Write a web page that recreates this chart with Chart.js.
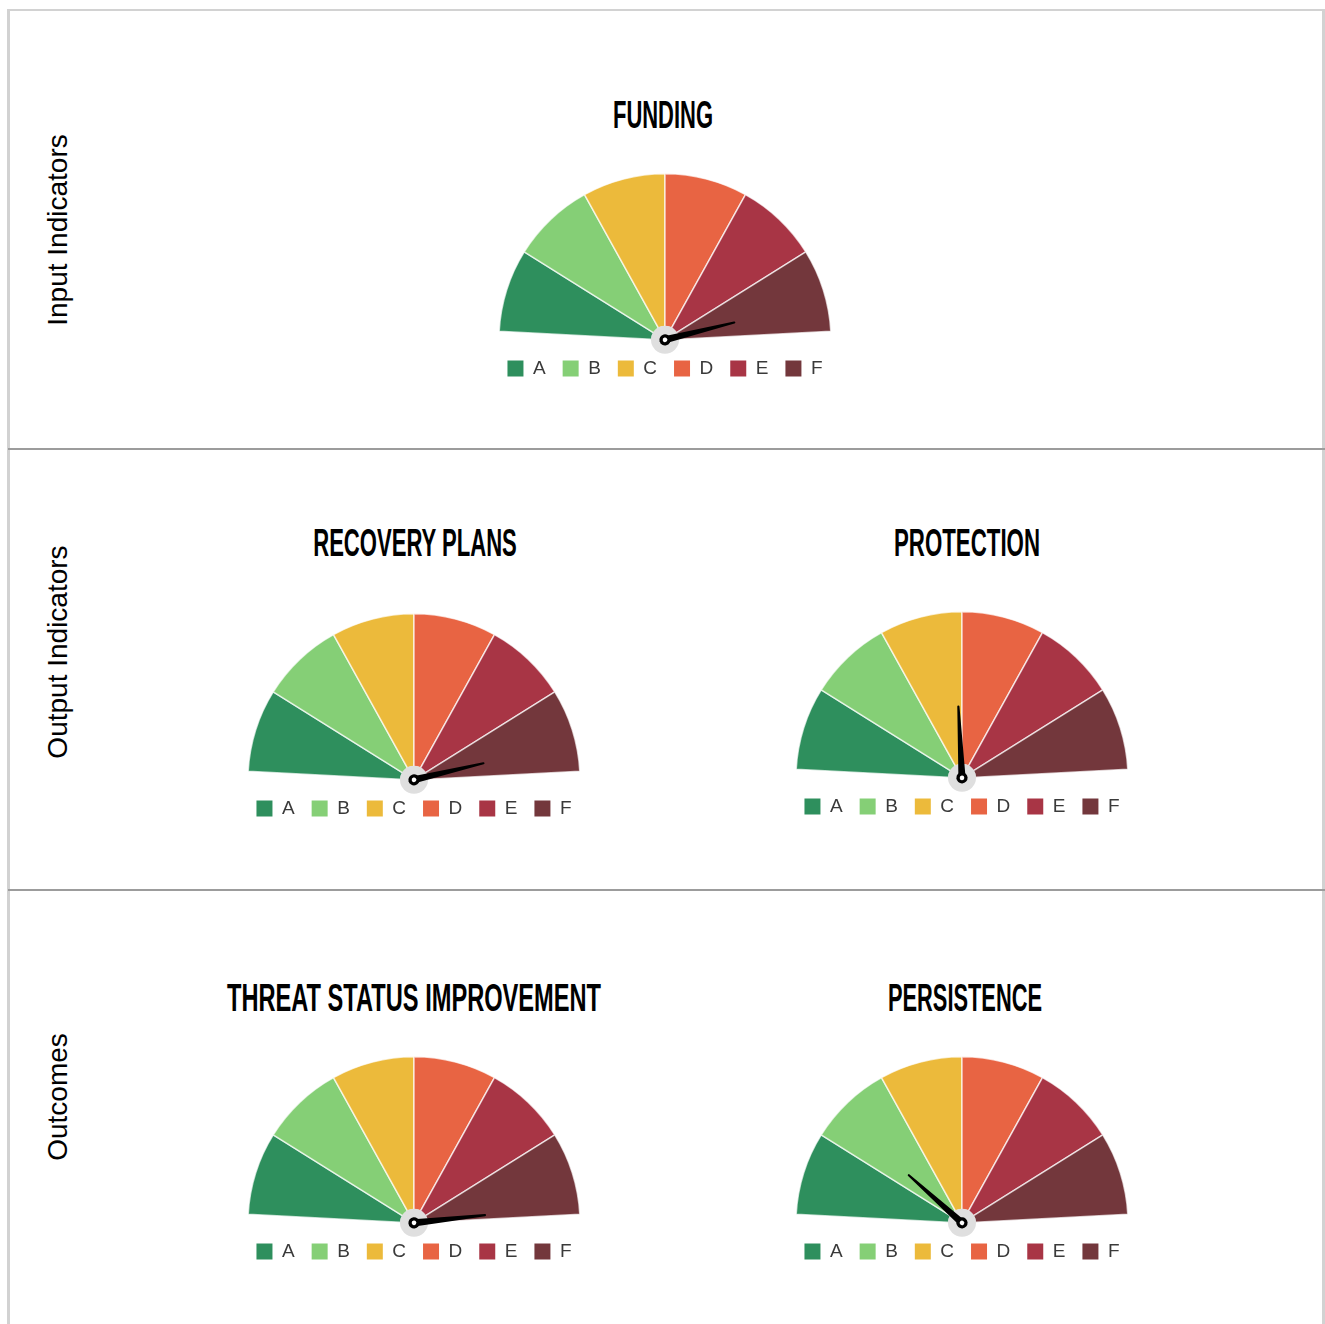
<!DOCTYPE html>
<html>
<head>
<meta charset="utf-8">
<title>Scorecard</title>
<script src="https://cdn.jsdelivr.net/npm/chart.js@4.4.0/dist/chart.umd.min.js"></script>
<style>
  html, body { margin: 0; padding: 0; background: #fff; }
  #page { position: relative; width: 1325px; height: 1324px; overflow: hidden; }
  .frame { position: absolute; left: 7px; top: 9px; width: 1312px; height: 1340px;
           border-left: 3px solid #d2d2d2; border-right: 3px solid #d2d2d2; border-top: 2px solid #d2d2d2; }
  .sep { position: absolute; left: 8px; width: 1317px; height: 2px; background: #9c9c9c; }
  .row-label { position: absolute; width: 400px; height: 28px; line-height: 28px; text-align: center;
               font: 28px "Liberation Sans", Arial, sans-serif; color: #000; transform: rotate(-90deg); white-space: nowrap; }
  .title { position: absolute; width: 700px; height: 38px; line-height: 38px; text-align: center;
           font: bold 38px "Liberation Sans Narrow", "Liberation Sans", sans-serif; color: #000;
           white-space: nowrap; }
  canvas.gauge { position: absolute; }
</style>
</head>
<body>
<div id="page">
  <div class="frame"></div>
  <div class="sep" style="top:448px"></div>
  <div class="sep" style="top:889px"></div>
</div>
<script>
// Grade bands shared by every gauge
const grades = ['A', 'B', 'C', 'D', 'E', 'F'];
const gradeColors = ['#2e8f5d', '#85cf76', '#ecba3b', '#e86443', '#a83545', '#73373c'];
const bandSizes = [1, 1, 1, 1, 1, 1];

// Indicator gauges and where each needle points (0 = start of A, 6 = end of F)
const gaugeTitles = ['FUNDING', 'RECOVERY PLANS', 'PROTECTION', 'THREAT STATUS IMPROVEMENT', 'PERSISTENCE'];
const needleValues = [5.62, 5.64, 2.90, 5.89, 1.34];

// Row headings
const rowLabels = ['Input Indicators', 'Output Indicators', 'Outcomes'];

// Page layout
const rowLabelCenters = [[55.5, 230], [55.5, 652], [55.5, 1097]];
const titleAnchors = [[662.5, 98], [415, 526], [967, 526], [413.5, 981], [965, 981]];
const titleWidths = [100, 204, 146, 374, 154];
const gaugeCenters = [[665, 340], [414, 780], [962, 778], [413.5, 1223], [962, 1223]];

const page = document.getElementById('page');

rowLabels.forEach((txt, i) => {
  const d = document.createElement('div');
  d.className = 'row-label';
  d.textContent = txt;
  d.style.left = (rowLabelCenters[i][0] - 200) + 'px';
  d.style.top = (rowLabelCenters[i][1] - 14) + 'px';
  page.appendChild(d);
});

// Condensed headline titles: squeeze each to its column width
const measureCtx = document.createElement('canvas').getContext('2d');
measureCtx.font = 'bold 38px "Liberation Sans Narrow", "Liberation Sans", sans-serif';
gaugeTitles.forEach((txt, i) => {
  const d = document.createElement('div');
  d.className = 'title';
  d.textContent = txt;
  d.style.left = (titleAnchors[i][0] - 350) + 'px';
  d.style.top = (titleAnchors[i][1] - 4.5) + 'px';
  const natural = measureCtx.measureText(txt).width;
  d.style.transform = 'scaleX(' + (titleWidths[i] / natural).toFixed(4) + ')';
  page.appendChild(d);
});

// Hub and needle drawn on top of the bands, using the arc geometry of the chart
const needlePlugin = {
  id: 'needle',
  afterDatasetsDraw(chart, args, opts) {
    const arcs = chart.getDatasetMeta(0).data;
    const sizes = chart.data.datasets[0].data;
    let v = opts.value, idx = 0;
    while (idx < sizes.length - 1 && v > sizes[idx]) { v -= sizes[idx]; idx++; }
    const arc = arcs[idx];
    const frac = Math.min(Math.max(v / sizes[idx], 0), 1);
    const ang = arc.startAngle + frac * (arc.endAngle - arc.startAngle);
    const { x, y, outerRadius } = arc.getProps(['x', 'y', 'outerRadius'], true);
    const ctx = chart.ctx;
    ctx.save();
    ctx.fillStyle = '#dfdfdf';
    ctx.beginPath(); ctx.arc(x, y, 14, 0, Math.PI * 2); ctx.fill();
    const len = outerRadius * 0.43;
    ctx.translate(x, y);
    ctx.rotate(ang);
    ctx.fillStyle = '#000';
    ctx.beginPath();
    ctx.moveTo(0, -3.6);
    ctx.lineTo(len, -1.1);
    ctx.arc(len, 0, 1.1, -Math.PI / 2, Math.PI / 2);
    ctx.lineTo(0, 3.6);
    ctx.closePath();
    ctx.fill();
    ctx.beginPath(); ctx.arc(0, 0, 5.6, 0, Math.PI * 2); ctx.fill();
    ctx.fillStyle = '#fff';
    ctx.beginPath(); ctx.arc(0, 0, 2.3, 0, Math.PI * 2); ctx.fill();
    ctx.restore();
  }
};

const CW = 360, CH = 221, CENTER_FROM_TOP = 173.4;

gaugeTitles.forEach((name, i) => {
  const c = document.createElement('canvas');
  c.className = 'gauge';
  c.width = CW; c.height = CH;
  c.style.width = CW + 'px'; c.style.height = CH + 'px';
  c.style.left = (gaugeCenters[i][0] - CW / 2) + 'px';
  c.style.top = (gaugeCenters[i][1] - CENTER_FROM_TOP) + 'px';
  page.appendChild(c);

  new Chart(c, {
    type: 'doughnut',
    data: {
      labels: grades,
      datasets: [{
        data: bandSizes,
        backgroundColor: gradeColors,
        borderColor: 'rgba(255,255,255,0.7)',
        borderWidth: 1.5,
        hoverOffset: 0
      }]
    },
    options: {
      responsive: false,
      animation: false,
      events: [],
      rotation: -87,
      circumference: 174,
      cutout: '8%',
      radius: 166,
      layout: { padding: { top: 4, left: 0, right: 0, bottom: 0 } },
      plugins: {
        tooltip: { enabled: false },
        title: { display: false },
        needle: { value: needleValues[i] },
        legend: {
          position: 'bottom',
          labels: {
            boxWidth: 16,
            boxHeight: 16,
            padding: 17,
            color: '#3a3a3a',
            font: { family: 'Liberation Sans', size: 19 },
            generateLabels: () => grades.map((g, k) => ({
              text: g, fillStyle: gradeColors[k], strokeStyle: gradeColors[k],
              lineWidth: 0, hidden: false, index: k, fontColor: '#3a3a3a'
            }))
          }
        }
      }
    },
    plugins: [needlePlugin]
  });
});
</script>
</body>
</html>
